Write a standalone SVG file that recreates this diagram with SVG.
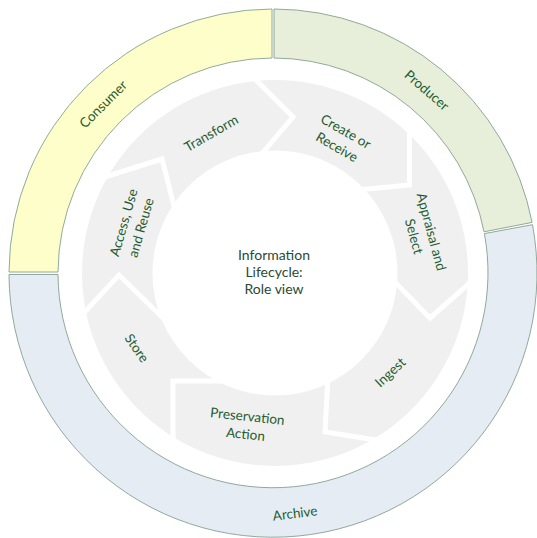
<svg xmlns="http://www.w3.org/2000/svg" width="537" height="538" viewBox="0 0 537 538">
  <defs>
    <style>
      .band { stroke: #84a08e; stroke-width: 0.9; }
      .consumer { fill: #fefecb; }
      .producer { fill: #e7efda; }
      .archive { fill: #e6ecf3; }
      .ring { fill: #f0f0f0; fill-rule: evenodd; }
      .gap { fill: none; stroke: #ffffff; stroke-width: 5; stroke-linejoin: miter; stroke-linecap: butt; }
      text { font-family: "Lato", "Open Sans", sans-serif; font-size: 13.5px; fill: #1f5b31; text-anchor: middle; }
      .title { fill: #2a4a33; font-size: 14px; }
    </style>
  </defs>
  <rect width="537" height="538" fill="#ffffff"/>

  <!-- outer role bands -->
  <g id="consumer">
    <path class="band consumer" d="M9,272 A264,264 0 0 1 272,9 L272,58 A215,215 0 0 0 58,272 Z"/>
    <text transform="translate(103,104) rotate(-45)" y="5">Consumer</text>
  </g>
  <g id="producer">
    <path class="band producer" d="M274,9 A264,264 0 0 1 532.1,222.4 L484,231.8 A215,215 0 0 0 274,58 Z"/>
    <text transform="translate(427,90) rotate(41)" y="5">Producer</text>
  </g>
  <g id="archive">
    <path class="band archive" d="M532.5,224.7 A264,264 0 1 1 9,274.5 L58,274.5 A215,215 0 1 0 484.4,233.6 Z"/>
    <text transform="translate(295,513) rotate(-7)" y="5">Archive</text>
  </g>

  <!-- lifecycle ring -->
  <path class="ring" d="M82,273 a193,193 0 1 0 386,0 a193,193 0 1 0 -386,0 Z M152.5,273 a122.5,122.5 0 1 0 245,0 a122.5,122.5 0 1 0 -245,0 Z"/>

  <!-- chevron cuts between stages -->
  <g id="segment-gaps">
    <polyline class="gap" points="253,77 293,117 253,164"/>
    <polyline class="gap" points="409.5,128 409.5,185 352,190.5"/>
    <polyline class="gap" points="390,277 430,318 472,281"/>
    <polyline class="gap" points="328,376 325,432 382,441"/>
    <polyline class="gap" points="226,381 173,381 173,442"/>
    <polyline class="gap" points="81,316 119,275 165,320"/>
    <polyline class="gap" points="100,178.5 162,159 175,210"/>
  </g>

  <!-- stages -->
  <g id="create-or-receive">
    <text transform="translate(341.5,139) rotate(30)"><tspan x="0" y="-4">Create or</tspan><tspan x="0" y="14">Receive</tspan></text>
  </g>
  <g id="appraisal-and-select">
    <text transform="translate(423,234) rotate(75)"><tspan x="0" y="-4">Appraisal and</tspan><tspan x="0" y="14">Select</tspan></text>
  </g>
  <g id="ingest">
    <text transform="translate(390,372) rotate(-43)" y="5">Ingest</text>
  </g>
  <g id="preservation-action">
    <text transform="translate(246.5,425) rotate(6)"><tspan x="0" y="-4">Preservation</tspan><tspan x="0" y="14">Action</tspan></text>
  </g>
  <g id="store">
    <text transform="translate(137,348) rotate(55)" y="5">Store</text>
  </g>
  <g id="access-use-and-reuse">
    <text transform="translate(132,225) rotate(-74)"><tspan x="0" y="-4">Access, Use</tspan><tspan x="0" y="14">and Reuse</tspan></text>
  </g>
  <g id="transform">
    <text transform="translate(211,133) rotate(-30)" y="5">Transform</text>
  </g>

  <!-- centre title -->
  <g id="title">
    <text class="title" x="274" y="260">Information</text>
    <text class="title" x="274" y="277">Lifecycle:</text>
    <text class="title" x="274" y="294">Role view</text>
  </g>
</svg>
